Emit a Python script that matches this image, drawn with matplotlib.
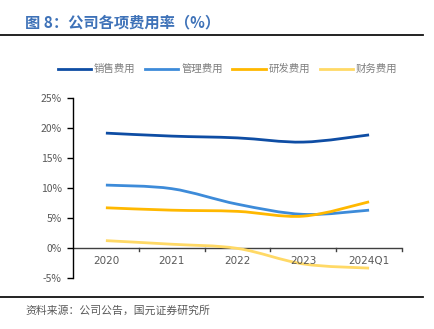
import matplotlib
matplotlib.use("Agg")
import matplotlib.pyplot as plt
from matplotlib.path import Path
from matplotlib.patches import PathPatch
from matplotlib.lines import Line2D
import numpy as np

plt.rcParams['font.family'] = ['Noto Sans CJK SC', 'DejaVu Sans']

categories = ["2020", "2021", "2022", "2023", "2024Q1"]
series_names = ["销售费用", "管理费用", "研发费用", "财务费用"]
sales = [19.2, 18.7, 18.4, 17.7, 18.9]
admin = [10.5, 9.9, 7.3, 5.6, 6.3]
rnd = [6.7, 6.3, 6.1, 5.3, 7.7]
fin = [1.2, 0.6, -0.1, -2.7, -3.4]
colors = ["#0E4DA4", "#3D8BD9", "#FFB800", "#FFD966"]
yticks = [-5, 0, 5, 10, 15, 20, 25]

fig = plt.figure(figsize=(4.35, 3.29), dpi=100)
ax = fig.add_axes([0.1678, 0.156, 0.7563, 0.5447])

def smooth_path(xs, ys):
    pts = np.column_stack([xs, ys]).astype(float)
    n = len(pts)
    verts = [pts[0]]
    codes = [Path.MOVETO]
    for i in range(n - 1):
        p0 = pts[i - 1] if i > 0 else pts[i]
        p1 = pts[i]
        p2 = pts[i + 1]
        p3 = pts[i + 2] if i + 2 < n else pts[i + 1]
        c1 = p1 + (p2 - p0) / 6.0
        c2 = p2 - (p3 - p1) / 6.0
        verts += [c1, c2, p2]
        codes += [Path.CURVE4] * 3
    return Path(verts, codes)

x = np.arange(len(categories))
for vals, c, name in zip([sales, admin, rnd, fin], colors, series_names):
    patch = PathPatch(smooth_path(x, vals), facecolor='none', edgecolor=c,
                      lw=2.0, capstyle='butt', zorder=3)
    ax.add_patch(patch)
    ax.plot([], [], color=c, lw=2.0, label=name)

ax.set_xlim(-0.5, len(categories) - 0.5)
ax.set_ylim(-5, 25)
ax.set_yticks(yticks)
ax.set_yticklabels([f"{t}%" for t in yticks])
for s in ['top', 'right', 'bottom']:
    ax.spines[s].set_visible(False)
ax.spines['left'].set_color('#000000')
ax.spines['left'].set_linewidth(1.0)
ax.tick_params(axis='y', length=4, width=1.0, color='#000000', labelsize=7.5,
               labelcolor='#595959', pad=4)
# zero axis line with category boundary ticks
ax.axhline(0, color='#404040', lw=1.0, zorder=2)
ax.set_xticks([])
for b in np.arange(0.5, len(categories), 1.0):
    ax.plot([b, b], [0, -0.6], color='#404040', lw=1.0, clip_on=False)
for xi, lab in zip(x, categories):
    ax.text(xi, -2.2, lab, ha='center', va='center', fontsize=7.5,
            color='#595959', family='DejaVu Sans')

leg = fig.legend(loc='center', bbox_to_anchor=(0.523, 0.79), ncol=4, frameon=False,
                 fontsize=7.5, handlelength=3.2, handletextpad=0.3,
                 columnspacing=0.9, labelcolor='#7F7F7F')

fig.text(25 / 435, 1 - 22 / 329, "图 8：公司各项费用率（%）", fontsize=11,
         fontweight='bold', color='#3E72B8', ha='left', va='center')
fig.add_artist(Line2D([0, 423 / 435], [1 - 35 / 329, 1 - 35 / 329],
                      color='#111111', lw=1.3, transform=fig.transFigure))
fig.add_artist(Line2D([0, 423 / 435], [1 - 297 / 329, 1 - 297 / 329],
                      color='#111111', lw=1.3, transform=fig.transFigure))
fig.text(25 / 435, 1 - 311 / 329, "资料来源：公司公告，国元证券研究所", fontsize=7.8,
         color='#595959', ha='left', va='center')

fig.savefig("out.png", dpi=100)
